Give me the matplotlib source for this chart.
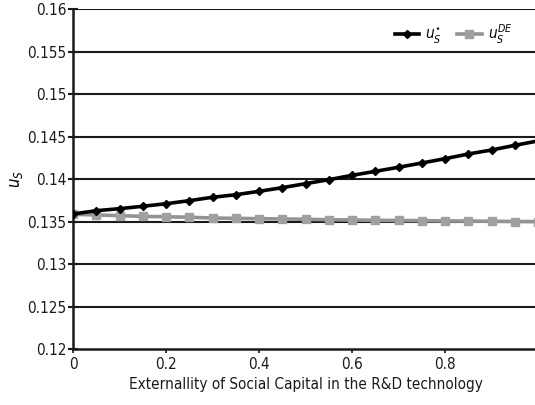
import matplotlib
matplotlib.use("Agg")
import matplotlib.pyplot as plt

plt.rcParams['font.family'] = ['DejaVu Sans']
plt.rcParams['font.stretch'] = 'condensed'
plt.rcParams['mathtext.fontset'] = 'dejavusans'

x = [0, 0.05, 0.1, 0.15, 0.2, 0.25, 0.3, 0.35, 0.4, 0.45, 0.5,
     0.55, 0.6, 0.65, 0.7, 0.75, 0.8, 0.85, 0.9, 0.95, 1.0]
u_star = [0.13588, 0.13627, 0.13651, 0.13679, 0.13709, 0.13745, 0.13785,
          0.13815, 0.13855, 0.13898, 0.13945, 0.13992, 0.14043, 0.1409,
          0.14138, 0.14188, 0.14239, 0.14294, 0.14341, 0.14396, 0.14448]
u_de = [0.13585, 0.13577, 0.13569, 0.1356, 0.13556, 0.1355, 0.13541,
        0.13537, 0.13533, 0.1353, 0.13526, 0.13521, 0.13518, 0.13514,
        0.13512, 0.1351, 0.13507, 0.13505, 0.13503, 0.135, 0.13498]
yticks = [0.12, 0.125, 0.13, 0.135, 0.14, 0.145, 0.15, 0.155, 0.16]
xticks = [0, 0.2, 0.4, 0.6, 0.8, 1]

fig = plt.figure(figsize=(5.35, 4.05), dpi=100)
ax = fig.add_axes([73/535, 1 - 349/405, 465/535, 340/405])

for t in yticks[1:]:
    ax.axhline(t, color='#1a1a1a', lw=1.5, zorder=1)

ax.plot(x, u_star, color='black', lw=2.6, marker='D', ms=4.5,
        label=r'$u_S^{\star}$', zorder=3)
ax.plot(x, u_de, color='#939393', lw=2.6, marker='s', ms=5.5,
        mfc='#a0a0a0', mec='#a0a0a0', label=r'$u_S^{DE}$', zorder=2)

ax.set_xlim(0, 1)
ax.set_ylim(0.12, 0.16)
ax.set_yticks(yticks)
ax.set_yticklabels(['0.12', '0.125', '0.13', '0.135', '0.14', '0.145',
                    '0.15', '0.155', '0.16'])
ax.set_xticks(xticks)
ax.set_xticklabels(['0', '0.2', '0.4', '0.6', '0.8', '1'])
ax.tick_params(axis='y', direction='inout', length=7, width=1.5,
               labelsize=11, colors='#1a1a1a', pad=1)
ax.tick_params(axis='x', direction='out', length=3, width=1.2,
               labelsize=11, colors='#1a1a1a', pad=3)

for s in ['top', 'right']:
    ax.spines[s].set_visible(False)
ax.spines['left'].set_linewidth(1.8)
ax.spines['bottom'].set_linewidth(1.8)
ax.spines['left'].set_color('#1a1a1a')
ax.spines['bottom'].set_color('#1a1a1a')

ax.set_xlabel('Externallity of Social Capital in the R&D technology',
              fontsize=11, color='#1a1a1a', labelpad=3)
ax.set_ylabel(r'$u_S$', fontsize=12, labelpad=2)

ax.legend(loc='upper right', bbox_to_anchor=(0.975, 1.0), ncol=2,
          frameon=False, fontsize=11, handlelength=1.6, columnspacing=1.0,
          handletextpad=0.4)

fig.savefig('out.png', dpi=100)
